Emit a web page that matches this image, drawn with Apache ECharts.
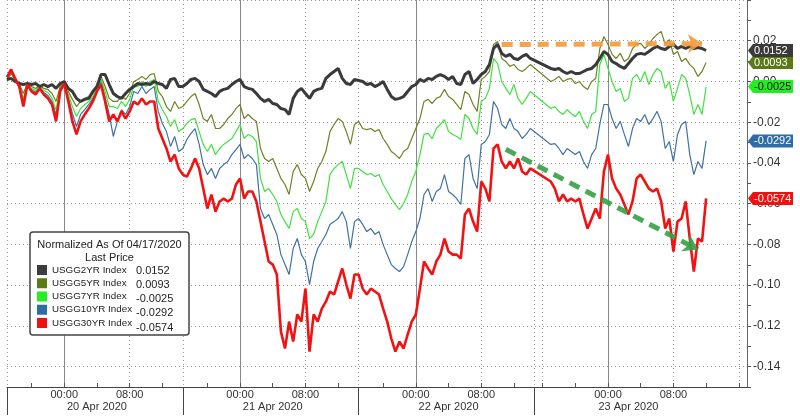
<!DOCTYPE html>
<html><head><meta charset="utf-8">
<script src="https://cdn.jsdelivr.net/npm/echarts@6/dist/echarts.min.js"></script>
<style>html,body{margin:0;padding:0;background:#fff}#c{width:800px;height:419px}</style>
</head><body><div id="c"></div>
<script>
// trading sessions (30-minute samples)
const sessions = [
  ['2020-04-19T17:00','2020-04-20T14:00'],
  ['2020-04-20T17:00','2020-04-21T14:00'],
  ['2020-04-21T17:00','2020-04-22T14:00'],
  ['2020-04-22T15:00','2020-04-23T17:00']
];
const seriesNames = ['USGG2YR Index','USGG5YR Index','USGG7YR Index','USGG10YR Index','USGG30YR Index'];
const timeLabels = ['00:00','08:00'];
const dateLabelAt = ['2020-04-20T04:00','2020-04-21T04:00','2020-04-22T04:00','2020-04-23T02:30'];
const yTickLabels = [0.02,0,-0.02,-0.04,-0.06,-0.08,-0.10,-0.12,-0.14];
const legendTitle = ['Normalized As Of 04/17/2020','Last Price'];

const us2y = [0.0010,0.0015,0,-0.0010,-0.0015,-0.0010,-0.0015,-0.0010,-0.0025,-0.0015,-0.0025,-0.0015,-0.0034,-0.0010,0,-0.0034,-0.0049,-0.0083,-0.0098,-0.0088,-0.0083,-0.0049,-0.0025,0.0034,0.0034,-0.0015,-0.0059,-0.0074,-0.0083,-0.0059,-0.0039,-0.0025,-0.0010,-0.0015,-0.0010,-0.0015,0,-0.0010,-0.0015,-0.0034,0.0010,0.0015,-0.0025,
 -0.0025,-0.0010,0.0010,0.0015,0,-0.0039,-0.0049,-0.0059,-0.0074,-0.0049,-0.0039,-0.0034,-0.0015,0,0.0010,-0.0025,-0.0034,-0.0039,-0.0059,-0.0083,-0.0098,-0.0088,-0.0108,-0.0113,-0.0133,-0.0138,-0.0162,-0.0083,-0.0049,-0.0034,-0.0059,-0.0083,-0.0049,-0.0039,-0.0034,0.0015,0.0034,0.0049,0.0064,0.0015,-0.0010,-0.0015,0.0010,
 0.0005,0,-0.0015,-0.0010,-0.0025,-0.0015,0,-0.0039,-0.0074,-0.0088,-0.0083,-0.0074,-0.0049,-0.0025,-0.0015,0.0010,0,0.0015,0.0010,0.0025,0.0034,0.0025,0.0010,0.0025,-0.0010,-0.0015,0.0034,0.0049,-0.0010,0.0010,0.0034,0.0049,0.0083,0.0162,0.0182,0.0138,0.0123,0.0133,0.0113,0.0108,0.0123,0.0133,0.0113,
 null,null,null,null,
 0.0064,0.0059,0.0064,0.0049,0.0039,0.0049,0.0039,0.0039,0.0049,0.0059,0.0064,0.0083,0.0113,0.0147,0.0133,0.0098,0.0088,0.0074,0.0064,0.0088,0.0113,0.0133,0.0138,0.0133,0.0147,0.0162,0.0172,0.0162,0.0157,0.0172,0.0182,0.0162,0.0172,0.0162,0.0172,0.0162,0.0167,0.0162,0.0152];

const us5y = [0.0010,0.0039,0.0010,-0.0010,-0.0059,-0.0010,-0.0025,-0.0034,-0.0020,-0.0034,-0.0039,-0.0059,-0.0098,-0.0025,0,-0.0049,-0.0088,-0.0123,-0.0098,-0.0083,-0.0074,-0.0059,-0.0025,0.0025,-0.0025,-0.0083,-0.0098,-0.0098,-0.0074,-0.0088,-0.0059,0,0.0010,0.0025,0.0010,0.0034,0.0039,-0.0049,-0.0074,-0.0123,-0.0147,-0.0098,-0.0133,
 -0.0123,-0.0098,-0.0074,-0.0059,-0.0113,-0.0182,-0.0196,-0.0162,-0.0231,-0.0231,-0.0211,-0.0182,-0.0162,-0.0133,-0.0113,-0.0182,-0.0162,-0.0182,-0.0196,-0.0329,-0.0378,-0.0393,-0.0378,-0.0427,-0.0476,-0.0506,-0.0555,-0.0442,-0.0408,-0.0457,-0.0476,-0.0540,-0.0491,-0.0427,-0.0393,-0.0344,-0.0246,-0.0211,-0.0182,-0.0196,-0.0246,-0.0309,-0.0211,
 -0.0196,-0.0231,-0.0236,-0.0231,-0.0246,-0.0236,-0.0280,-0.0309,-0.0344,-0.0359,-0.0378,-0.0344,-0.0329,-0.0280,-0.0231,-0.0182,-0.0098,-0.0088,-0.0108,-0.0083,-0.0074,-0.0039,-0.0074,-0.0088,-0.0113,-0.0138,-0.0049,-0.0064,-0.0113,-0.0147,0.0010,0.0025,0.0049,0.0182,0.0196,0.0113,0.0098,0.0074,0.0083,0.0059,0.0049,0.0064,0.0083,
 null,null,null,null,
 0,0.0010,0.0025,0,0.0010,0.0015,-0.0010,0,-0.0025,-0.0039,0,0.0015,0.0162,0.0221,0.0182,0.0133,0.0113,0.0138,0.0098,0.0113,0.0162,0.0182,0.0187,0.0162,0.0182,0.0211,0.0231,0.0246,0.0182,0.0206,0.0133,0.0147,0.0098,0.0113,0.0083,0.0064,0.0025,0.0049,0.0093];

const us7y = [0.0005,0.0039,0.0010,-0.0015,-0.0083,-0.0010,-0.0034,-0.0044,-0.0025,-0.0044,-0.0054,-0.0083,-0.0138,-0.0034,-0.0005,-0.0064,-0.0123,-0.0172,-0.0133,-0.0113,-0.0098,-0.0074,-0.0034,0.0010,-0.0049,-0.0123,-0.0123,-0.0133,-0.0098,-0.0123,-0.0088,-0.0025,-0.0025,0,-0.0025,0,0.0010,-0.0098,-0.0138,-0.0172,-0.0221,-0.0187,-0.0246,
 -0.0231,-0.0206,-0.0187,-0.0182,-0.0246,-0.0309,-0.0344,-0.0309,-0.0359,-0.0329,-0.0309,-0.0295,-0.0280,-0.0246,-0.0211,-0.0280,-0.0260,-0.0270,-0.0295,-0.0476,-0.0540,-0.0526,-0.0555,-0.0589,-0.0653,-0.0688,-0.0722,-0.0639,-0.0624,-0.0673,-0.0688,-0.0771,-0.0751,-0.0688,-0.0639,-0.0589,-0.0457,-0.0427,-0.0408,-0.0393,-0.0457,-0.0526,-0.0427,
 -0.0427,-0.0442,-0.0457,-0.0452,-0.0467,-0.0457,-0.0506,-0.0540,-0.0575,-0.0604,-0.0629,-0.0599,-0.0555,-0.0491,-0.0442,-0.0359,-0.0260,-0.0255,-0.0280,-0.0231,-0.0211,-0.0187,-0.0246,-0.0260,-0.0270,-0.0285,-0.0162,-0.0182,-0.0231,-0.0260,-0.0098,-0.0083,-0.0034,0.0113,0.0088,0,-0.0034,-0.0064,-0.0015,-0.0083,-0.0113,-0.0083,-0.0049,
 null,null,null,null,
 -0.0133,-0.0123,-0.0147,-0.0162,-0.0138,-0.0157,-0.0172,-0.0147,-0.0196,-0.0231,-0.0162,-0.0147,0.0083,0.0133,0.0064,0,-0.0049,-0.0034,-0.0098,-0.0083,0.0015,0.0034,0,0.0049,-0.0015,0.0034,0.0064,0.0049,-0.0034,0,-0.0098,-0.0034,0.0034,0.0015,-0.0064,-0.0162,-0.0113,-0.0162,-0.0025];

const us10y = [0.0005,0.0044,0.0010,-0.0020,-0.0098,-0.0015,-0.0039,-0.0054,-0.0029,-0.0054,-0.0069,-0.0098,-0.0162,-0.0039,-0.0005,-0.0079,-0.0157,-0.0221,-0.0162,-0.0138,-0.0113,-0.0083,-0.0039,0,-0.0079,-0.0162,-0.0270,-0.0196,-0.0138,-0.0162,-0.0123,-0.0049,-0.0059,-0.0025,-0.0059,-0.0039,-0.0025,-0.0147,-0.0206,-0.0246,-0.0319,-0.0270,-0.0344,
 -0.0329,-0.0285,-0.0255,-0.0231,-0.0309,-0.0408,-0.0457,-0.0427,-0.0476,-0.0427,-0.0408,-0.0393,-0.0359,-0.0334,-0.0309,-0.0378,-0.0359,-0.0378,-0.0408,-0.0624,-0.0673,-0.0653,-0.0702,-0.0751,-0.0850,-0.0899,-0.0948,-0.0820,-0.0771,-0.0850,-0.0884,-0.0997,-0.0884,-0.0820,-0.0786,-0.0751,-0.0702,-0.0688,-0.0673,-0.0639,-0.0688,-0.0820,-0.0688,
 -0.0673,-0.0702,-0.0737,-0.0722,-0.0751,-0.0737,-0.0801,-0.0850,-0.0899,-0.0918,-0.0933,-0.0909,-0.0850,-0.0786,-0.0737,-0.0673,-0.0555,-0.0526,-0.0589,-0.0540,-0.0526,-0.0457,-0.0540,-0.0555,-0.0575,-0.0604,-0.0378,-0.0359,-0.0476,-0.0526,-0.0309,-0.0295,-0.0260,-0.0098,-0.0133,-0.0211,-0.0231,-0.0182,-0.0231,-0.0246,-0.0280,-0.0260,-0.0231,
 null,null,null,null,
 -0.0309,-0.0305,-0.0329,-0.0359,-0.0329,-0.0344,-0.0359,-0.0344,-0.0393,-0.0427,-0.0359,-0.0329,-0.0211,-0.0113,-0.0113,-0.0182,-0.0231,-0.0196,-0.0260,-0.0319,-0.0231,-0.0182,-0.0196,-0.0162,-0.0211,-0.0182,-0.0147,-0.0196,-0.0329,-0.0295,-0.0393,-0.0260,-0.0211,-0.0196,-0.0359,-0.0457,-0.0393,-0.0427,-0.0292];

const us30y = [0.0020,0.0059,0.0015,-0.0025,-0.0123,-0.0015,-0.0049,-0.0064,-0.0034,-0.0064,-0.0083,-0.0113,-0.0196,-0.0049,-0.0010,-0.0098,-0.0196,-0.0260,-0.0196,-0.0162,-0.0133,-0.0098,-0.0049,-0.0015,-0.0098,-0.0196,-0.0162,-0.0196,-0.0147,-0.0182,-0.0147,-0.0098,-0.0113,-0.0083,-0.0113,-0.0098,-0.0098,-0.0231,-0.0280,-0.0329,-0.0393,-0.0359,-0.0427,
 -0.0457,-0.0467,-0.0427,-0.0378,-0.0427,-0.0526,-0.0624,-0.0555,-0.0639,-0.0589,-0.0575,-0.0589,-0.0575,-0.0506,-0.0476,-0.0575,-0.0540,-0.0540,-0.0589,-0.0688,-0.0786,-0.0884,-0.0899,-0.0948,-0.1228,-0.1311,-0.1179,-0.1277,-0.1144,-0.1179,-0.1017,-0.1326,-0.1144,-0.1179,-0.1115,-0.1081,-0.1031,-0.1046,-0.0982,-0.0918,-0.0997,-0.1066,-0.0948,
 -0.0948,-0.1017,-0.1046,-0.1017,-0.1031,-0.1046,-0.1115,-0.1179,-0.1262,-0.1326,-0.1277,-0.1311,-0.1243,-0.1179,-0.1144,-0.1017,-0.0884,-0.0918,-0.0948,-0.0884,-0.0850,-0.0771,-0.0835,-0.0850,-0.0850,-0.0869,-0.0653,-0.0624,-0.0688,-0.0737,-0.0491,-0.0526,-0.0589,-0.0329,-0.0309,-0.0393,-0.0427,-0.0393,-0.0427,-0.0378,-0.0442,-0.0457,-0.0427,
 null,null,null,null,
 -0.0491,-0.0526,-0.0589,-0.0555,-0.0589,-0.0575,-0.0589,-0.0575,-0.0653,-0.0722,-0.0673,-0.0624,-0.0673,-0.0442,-0.0359,-0.0476,-0.0526,-0.0555,-0.0604,-0.0653,-0.0589,-0.0476,-0.0457,-0.0491,-0.0526,-0.0540,-0.0526,-0.0589,-0.0722,-0.0673,-0.0835,-0.0688,-0.0673,-0.0589,-0.0771,-0.0933,-0.0771,-0.0786,-0.0574];

// annotation arrows: [startTime, startValue, endTime, endValue]
const orangeArrow = ['2020-04-22T10:30', 0.0181, '2020-04-23T11:30', 0.0186];
const greenArrow  = ['2020-04-22T11:00', -0.0333, '2020-04-23T11:00', -0.0825];

// ---------- build ----------
const times = [];
const sessionStart = new Set();
sessions.forEach(([a, b]) => {
  sessionStart.add(times.length);
  let t = Date.parse(a + ':00Z'); const e = Date.parse(b + ':00Z');
  for (; t <= e; t += 1800000) times.push(new Date(t).toISOString().slice(0, 16));
});
const hhmm = v => v.slice(11, 16);
const months = ['Jan','Feb','Mar','Apr','May','Jun','Jul','Aug','Sep','Oct','Nov','Dec'];
const FONT = '"Liberation Sans", Arial, sans-serif';
const lastOf = arr => { for (let i = arr.length - 1; i >= 0; i--) if (arr[i] != null) return arr[i]; };

const cfg = {
  'USGG2YR Index':  {data: us2y,  line: '#3a3a3a', sw: '#3c3c3c', width: 3,   tagBg: '#3a3a3a', tagFg: '#fff'},
  'USGG5YR Index':  {data: us5y,  line: '#6f8224', sw: '#5a7a14', width: 1.2, tagBg: '#5a7a14', tagFg: '#fff'},
  'USGG7YR Index':  {data: us7y,  line: '#3fe23f', sw: '#22ee22', width: 1.2, tagBg: '#22ee22', tagFg: '#111'},
  'USGG10YR Index': {data: us10y, line: '#3f72a4', sw: '#2e6ca6', width: 1.2, tagBg: '#2e6ca6', tagFg: '#fff'},
  'USGG30YR Index': {data: us30y, line: '#f21212', sw: '#ee1111', width: 2.6, tagBg: '#f01010', tagFg: '#fff'}
};
const drawOrder = ['USGG10YR Index','USGG7YR Index','USGG5YR Index','USGG2YR Index','USGG30YR Index'];
const tagOrder = ['USGG30YR Index','USGG10YR Index','USGG7YR Index','USGG5YR Index','USGG2YR Index'];

const series = drawOrder.map(name => {
  const c = cfg[name];
  return {
    name, type: 'line', data: c.data, symbol: 'none', connectNulls: true,
    xAxisIndex: 0, yAxisIndex: 0, animation: false,
    lineStyle: {color: c.line, width: c.width}, itemStyle: {color: c.sw},
    emphasis: {disabled: true}
  };
});

const arrowItem = (a, color) => [
  {coord: [a[0], a[1]], lineStyle: {color, width: 5, type: [11, 7], opacity: 0.9}, symbol: 'none'},
  {coord: [a[2], a[3]], symbol: 'arrow', symbolSize: [14, 14]}
];
series.push({
  name: 'arrows', type: 'line', data: [], xAxisIndex: 0, yAxisIndex: 0, animation: false,
  markLine: {silent: true, animation: false, label: {show: false},
    data: [arrowItem(orangeArrow, '#f29a3a'), arrowItem(greenArrow, '#35a045')]}
});

const baseGraphic = [
  {type: 'rect', x: 30, y: 232, z: 10, shape: {width: 159, height: 103, r: 3}, style: {fill: '#fff', stroke: '#444', lineWidth: 1.5}},
  {type: 'text', x: 109.5, y: 245, z: 11, style: {text: legendTitle[0], align: 'center', verticalAlign: 'middle', fontSize: 11, fontFamily: FONT, fill: '#222'}},
  {type: 'text', x: 109.5, y: 258, z: 11, style: {text: legendTitle[1], align: 'center', verticalAlign: 'middle', fontSize: 11, fontFamily: FONT, fill: '#222'}}
];

const chart = echarts.init(document.getElementById('c'), null, {renderer: 'canvas'});
chart.setOption({
  backgroundColor: '#fff',
  animation: false,
  textStyle: {fontFamily: FONT},
  grid: {left: 7, right: 53, top: -1, bottom: 32, containLabel: false},
  xAxis: [
    {type: 'category', data: times, boundaryGap: false,
      axisLine: {onZero: false, lineStyle: {color: '#444', width: 1}},
      axisTick: {show: true, inside: true, length: 4, interval: (i, v) => v.slice(14, 16) === '00' && (+v.slice(11, 13)) % 4 === 0, lineStyle: {color: '#555'}},
      axisLabel: {interval: (i, v) => timeLabels.includes(hhmm(v)), formatter: v => hhmm(v), fontSize: 11, color: '#333', margin: 2, fontFamily: FONT},
      splitLine: {show: true, interval: (i, v) => hhmm(v) === '08:00' || hhmm(v) === '16:00' || sessionStart.has(i),
        lineStyle: {color: '#999', type: [1, 3], width: 1}}
    },
    {type: 'category', data: times, boundaryGap: false, position: 'bottom',
      axisLine: {show: false, onZero: false}, axisTick: {show: false}, axisLabel: {show: false},
      splitLine: {show: true, interval: (i, v) => hhmm(v) === '00:00', lineStyle: {color: '#888', width: 1}}
    },
    {type: 'category', data: times, boundaryGap: false, position: 'bottom',
      axisLine: {show: false, onZero: false},
      axisTick: {show: true, length: 28, interval: (i) => sessionStart.has(i), lineStyle: {color: '#444', width: 1}},
      axisLabel: {interval: (i, v) => dateLabelAt.includes(v), margin: 14, fontSize: 11, color: '#333', fontFamily: FONT,
        formatter: v => (+v.slice(8, 10)) + ' ' + months[+v.slice(5, 7) - 1] + ' ' + v.slice(0, 4)},
      splitLine: {show: false}
    }
  ],
  yAxis: [{
    type: 'value', position: 'right', min: -0.15, max: 0.04, interval: 0.01,
    axisLine: {show: true, onZero: false, lineStyle: {color: '#666'}},
    axisTick: {show: true, length: 4, lineStyle: {color: '#555'}},
    axisLabel: {margin: 6, fontSize: 12, color: '#333', fontFamily: FONT,
      formatter: v => yTickLabels.some(t => Math.abs(t - v) < 1e-6) ? v.toFixed(2) : ''},
    splitLine: {show: true, lineStyle: {color: ['transparent', '#999'], type: [1, 3], width: 1}}
  }],
  legend: [
    {data: seriesNames, orient: 'vertical', left: 37, top: 265, z: 12, padding: 0,
      icon: 'rect', itemWidth: 10, itemHeight: 10, itemGap: 3.25, selectedMode: false,
      textStyle: {fontSize: 9.8, lineHeight: 10, color: '#222', fontFamily: FONT}},
    {data: seriesNames, orient: 'vertical', left: 131, top: 265, z: 12, padding: 0,
      icon: 'none', itemWidth: 0, itemHeight: 10, itemGap: 3.25, selectedMode: false,
      formatter: name => lastOf(cfg[name].data).toFixed(4),
      textStyle: {fontSize: 11, lineHeight: 10, color: '#222', fontFamily: FONT}}
  ],
  graphic: baseGraphic,
  series
});

// last-price tags on the value axis, placed through the axis scale
const xEnd = chart.convertToPixel({xAxisIndex: 0}, times.length - 1);
const tags = [];
tagOrder.forEach((name, k) => {
  const c = cfg[name]; const v = lastOf(c.data);
  const y = chart.convertToPixel({yAxisIndex: 0}, v);
  tags.push({type: 'polygon', z: 20 + k, shape: {points: [[xEnd + 1, y], [xEnd + 6, y - 6.5], [xEnd + 46, y - 6.5], [xEnd + 46, y + 6.5], [xEnd + 6, y + 6.5]]}, style: {fill: c.tagBg}});
  tags.push({type: 'text', z: 20 + k, x: xEnd + 7, y: y + 0.5, style: {text: v.toFixed(4), fontSize: 11, fontFamily: FONT, fill: c.tagFg, align: 'left', verticalAlign: 'middle'}});
});
chart.setOption({graphic: baseGraphic.concat(tags)});
</script></body></html>
